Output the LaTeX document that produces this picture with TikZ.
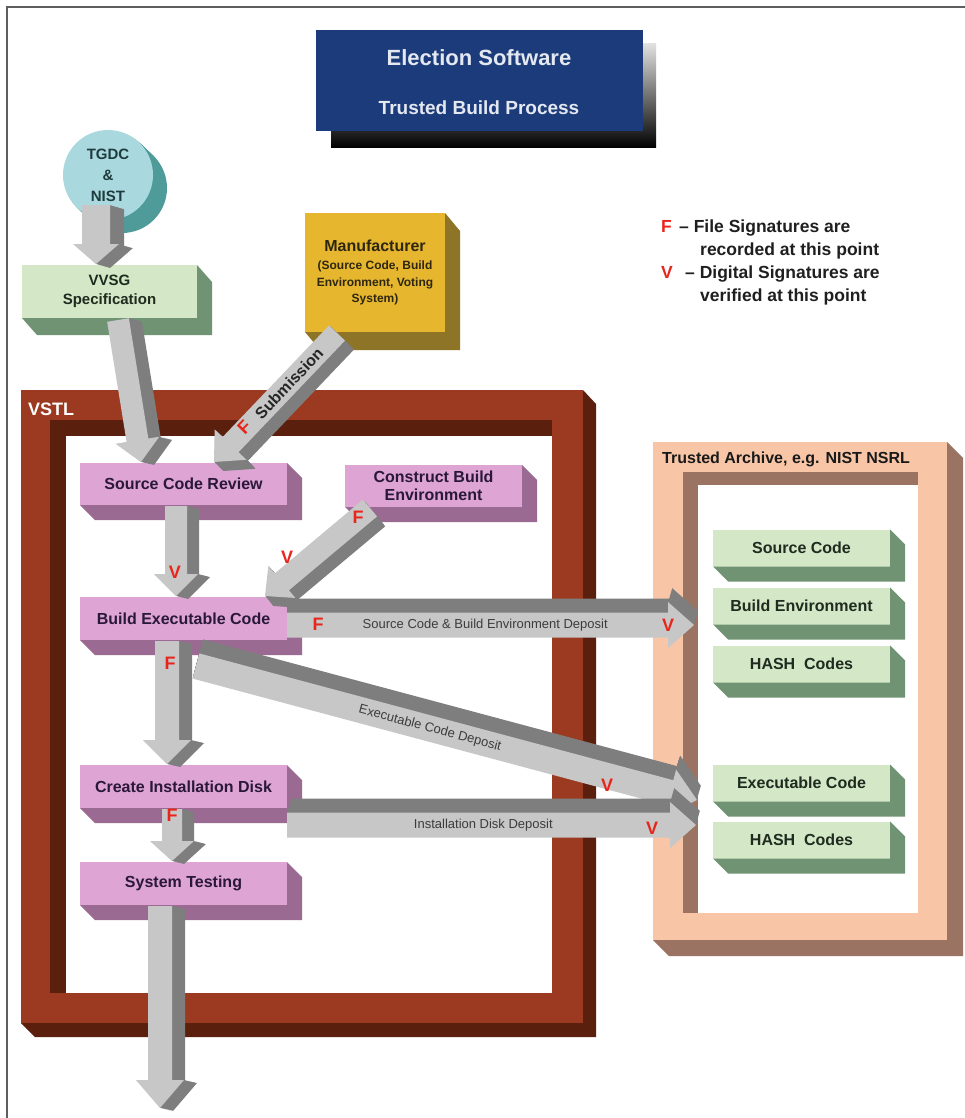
\documentclass[tikz,border=0pt]{standalone}
\usepackage{fontspec}
\setmainfont{Liberation Sans}
\usetikzlibrary{calc}
\definecolor{pinkF}{HTML}{DEA4D4}
\definecolor{pinkS}{HTML}{9A6A93}
\definecolor{pinkT}{HTML}{2A1838}
\definecolor{greenF}{HTML}{D4E7C7}
\definecolor{greenS}{HTML}{6F9373}
\definecolor{greenT}{HTML}{1E2B1E}
\definecolor{navy}{HTML}{1C3B7B}
\definecolor{titleT}{HTML}{E4E8F0}
\definecolor{vstlM}{HTML}{9B3A21}
\definecolor{vstlD}{HTML}{5B200D}
\definecolor{peach}{HTML}{F8C6A6}
\definecolor{archD}{HTML}{9A7363}
\definecolor{yellowF}{HTML}{E7B62F}
\definecolor{yellowS}{HTML}{8D7426}
\definecolor{mfrT}{HTML}{2E2710}
\definecolor{cyanF}{HTML}{A9D9DF}
\definecolor{cyanS}{HTML}{4E9B99}
\definecolor{cyanT}{HTML}{1F3B3D}
\definecolor{arrowL}{HTML}{C7C7C7}
\definecolor{arrowD}{HTML}{7E7E7E}
\definecolor{redL}{HTML}{E8251B}
\definecolor{depT}{HTML}{3C3C3C}
\definecolor{borderC}{HTML}{5E5E5E}

% 3D box extrusion to the right and bottom of a node
\newcommand\extrude[4]{\fill[#4] (#1.north east) -- ++(#2,#3) -- ($(#1.south east)+(#2,#3)$) -- ($(#1.south west)+(#2,#3)$) -- (#1.south west) -- (#1.south east) -- cycle;}

% 3D block arrow: #1 from, #2 to, #3 half width, #4 head half width, #5 head length, #6 depth x, #7 depth y (down)
\newcommand\blockarrow[7]{%
  \path (#1); \pgfgetlastxy{\BAxa}{\BAya}%
  \path (#2); \pgfgetlastxy{\BAxb}{\BAyb}%
  \pgfmathsetmacro\BAang{atan2(\BAyb-\BAya,\BAxb-\BAxa)}%
  \pgfmathsetmacro\BAlen{veclen(\BAxb-\BAxa,\BAyb-\BAya)}%
  \foreach \k in {16,15,...,1}{%
    \begin{scope}[shift={({\BAxa+\k/16*(#6pt)},{\BAya-\k/16*(#7pt)})},rotate=\BAang]
      \fill[arrowside] (0pt,-#3pt) -- ({\BAlen pt-#5pt},-#3pt) -- ({\BAlen pt-#5pt},-#4pt) -- (\BAlen pt,0pt) -- ({\BAlen pt-#5pt},#4pt) -- ({\BAlen pt-#5pt},#3pt) -- (0pt,#3pt) -- cycle;
    \end{scope}}%
  \begin{scope}[shift={(\BAxa,\BAya)},rotate=\BAang]
    \fill[arrowfront] (0pt,-#3pt) -- ({\BAlen pt-#5pt},-#3pt) -- ({\BAlen pt-#5pt},-#4pt) -- (\BAlen pt,0pt) -- ({\BAlen pt-#5pt},#4pt) -- ({\BAlen pt-#5pt},#3pt) -- (0pt,#3pt) -- cycle;
  \end{scope}}

\tikzset{
  pinkbox/.style={fill=pinkF, minimum width=207pt, minimum height=42pt, inner sep=0pt, outer sep=0pt, text=pinkT, font=\bfseries\fontsize{16}{18}\selectfont, align=center},
  greenbox/.style={fill=greenF, minimum width=177pt, minimum height=37pt, inner sep=0pt, outer sep=0pt, text=greenT, font=\bfseries\fontsize{16}{18}\selectfont, align=center},
  redmark/.style={text=redL, font=\bfseries\fontsize{18}{20}\selectfont, inner sep=0pt},
  deplabel/.style={text=depT, font=\fontsize{13}{15}\selectfont, inner sep=0pt},
  legendtext/.style={anchor=base west, font=\bfseries\fontsize{17.5}{20}\selectfont, inner sep=0pt, text=black!88},
  arrowfront/.style={fill=arrowL},
  arrowside/.style={fill=arrowD}
}

\begin{document}
\begin{tikzpicture}[x=1pt,y=-1pt]
\useasboundingbox (0,0) rectangle (965,1118);
\fill[white] (0,0) rectangle (965,1118);
\draw[borderC, line width=2pt] (7,1118) -- (7,7) -- (965,7);

% title
\shade[top color=black!12, bottom color=black] (331,44) rectangle (656,148);
\node[fill=navy, minimum width=327pt, minimum height=101pt, inner sep=0pt] (title) at (479,80.5) {};
\node[text=titleT, font=\bfseries\fontsize{22}{24}\selectfont, inner sep=0pt] (title1) at ($(title.center)+(0,-23)$) {Election Software};
\node[text=titleT, font=\bfseries\fontsize{19}{21}\selectfont, inner sep=0pt] (title2) at ($(title.center)+(0,27)$) {Trusted Build Process};

% legend
\node[legendtext, text=redL] (legF) at (661,232) {F};
\node[legendtext] (leg1) at (679,232) {– File Signatures are};
\node[legendtext] (leg2) at (700,255) {recorded at this point};
\node[legendtext, text=redL] (legV) at (661,278) {V};
\node[legendtext] (leg3) at (685,278) {– Digital Signatures are};
\node[legendtext] (leg4) at (700,301) {verified at this point};

% VSTL frame
\fill[vstlD] (583,390) -- (596,404) -- (596,1037) -- (35,1037) -- (21,1023) -- (583,1023) -- cycle;
\fill[vstlM] (21,390) rectangle (583,1023);
\fill[vstlD] (50,420) rectangle (552,993);
\fill[white] (66,436) rectangle (552,993);
\node[anchor=base west, text=white, font=\bfseries\fontsize{18}{20}\selectfont, inner sep=0pt] (vstl) at (28,415) {VSTL};

% Trusted archive frame
\fill[archD] (947,442) -- (963,458) -- (963,956) -- (669,956) -- (653,940) -- (947,940) -- cycle;
\fill[peach] (653,442) rectangle (947,940);
\fill[archD] (683,472) rectangle (918,913);
\fill[white] (698,485) rectangle (918,913);
\node[anchor=base west, text=black!90, font=\bfseries\fontsize{16}{18}\selectfont, inner sep=0pt] (arch) at (662,463) {Trusted Archive, e.g. NIST NSRL};

% TGDC & NIST
\coordinate (tgdcc) at (108,175);
\foreach \k in {14,...,1} \fill[cyanS] ($(tgdcc)+(\k,0.93*\k)$) circle[radius=45];
\node[circle, fill=cyanF, minimum size=90pt, inner sep=0pt, text=cyanT, align=center, font=\bfseries\fontsize{15}{21}\selectfont] (tgdc) at (tgdcc) {TGDC\\\&\\NIST};

% boxes
\node[greenbox, minimum width=175pt, minimum height=53pt, font=\bfseries\fontsize{15}{19}\selectfont] (vvsg) at (109.5,291.5) {VVSG\\Specification};
\extrude{vvsg}{15}{17}{greenS}
\node[fill=yellowF, minimum width=140pt, minimum height=119pt, inner sep=0pt, outer sep=0pt, text=mfrT, align=center, font=\bfseries\fontsize{12}{16.5}\selectfont] (mfr) at (375,272.5) {{\fontsize{16}{18}\selectfont Manufacturer}\\[2pt](Source Code, Build\\Environment, Voting\\System)};
\extrude{mfr}{15}{18}{yellowS}

\node[pinkbox] (scr) at (183.5,484) {Source Code Review};
\extrude{scr}{15}{15}{pinkS}
\node[pinkbox, minimum width=177pt] (cbe) at (433.5,486) {Construct Build\\Environment};
\extrude{cbe}{15}{15}{pinkS}
\node[pinkbox, minimum height=43pt] (bec) at (183.5,618.5) {Build Executable Code};
\extrude{bec}{15}{15}{pinkS}
\node[pinkbox, minimum height=43pt] (cid) at (183.5,786.5) {Create Installation Disk};
\extrude{cid}{15}{15}{pinkS}
\node[pinkbox, minimum height=43pt] (st) at (183.5,883.5) {System Testing};
\extrude{st}{15}{15}{pinkS}

\node[greenbox] (src) at (801.5,548) {Source Code};
\extrude{src}{15}{15}{greenS}
\node[greenbox] (benv) at (801.5,606) {Build Environment};
\extrude{benv}{15}{15}{greenS}
\node[greenbox] (hash1) at (801.5,664) {HASH\ \ Codes};
\extrude{hash1}{15}{15}{greenS}
\node[greenbox] (exe) at (801.5,783) {Executable Code};
\extrude{exe}{15}{15}{greenS}
\node[greenbox] (hash2) at (801.5,840) {HASH\ \ Codes};
\extrude{hash2}{15}{15}{greenS}

% arrow end points
\coordinate (a1s) at ($(tgdc.center)+(-12,30)$);
\coordinate (a1e) at ($(vvsg.north)+(-13.5,-1)$);
\coordinate (a2s) at ($(vvsg.south)+(8.5,2)$);
\coordinate (a2e) at ($(scr.north)+(-42.5,-1)$);
\coordinate (a3s) at ($(mfr.south)+(-38,1)$);
\coordinate (a3e) at ($(scr.north)+(30.5,-1)$);
\coordinate (a4s) at ($(scr.south)+(-7.5,1)$);
\coordinate (a4e) at ($(bec.north)+(-7.5,-1)$);
\coordinate (a5s) at ($(cbe.south west)+(25,1)$);
\coordinate (a5e) at ($(bec.north)+(81.5,-1)$);
\coordinate (a6s) at ($(bec.east)+(0,6.5)$);
\coordinate (a6e) at ($(a6s -| src.west)+(-19,0)$);
\coordinate (a7s) at ($(bec.south)+(-16.5,1)$);
\coordinate (a7e) at ($(cid.north)+(-16.5,-1)$);
\coordinate (a8s) at ($(bec.south)+(12.5,26)$);
\coordinate (a8e) at ($(exe.west)+(-16,17)$);
\coordinate (a9s) at ($(cid.east)+(0,38.5)$);
\coordinate (a9e) at ($(a9s -| exe.west)+(-17,0)$);
\coordinate (a10s) at ($(cid.south)+(-11.5,1)$);
\coordinate (a10e) at ($(st.north)+(-11.5,-1)$);
\coordinate (a11s) at ($(st.south)+(-23.5,1)$);
\coordinate (out) at (160,1108);

% arrows
\blockarrow{a1s}{a1e}{14}{23}{20}{14}{4}
\blockarrow{a2s}{a2e}{11}{22}{22}{13}{3}
\blockarrow{a3s}{a3e}{11}{22}{24}{9}{9}
\blockarrow{a4s}{a4e}{11}{22}{22}{12}{3}
\blockarrow{a5s}{a5e}{11}{21}{22}{8}{10}
\blockarrow{a6s}{a6e}{12.5}{23}{26}{4}{-14}
\blockarrow{a8s}{a8e}{13}{24}{28}{4}{-14}
\blockarrow{a7s}{a7e}{12}{24}{24}{13}{3}
\blockarrow{a9s}{a9e}{12.5}{23}{26}{4}{-14}
\blockarrow{a10s}{a10e}{10}{22}{20}{12}{3}
\blockarrow{a11s}{out}{12}{24}{28}{13}{3}

% arrow labels
\path (a3s) -- (a3e) node[pos=0.39, sloped, inner sep=0pt, text=black!85, font=\bfseries\fontsize{16}{18}\selectfont] (subl) {Submission};
\path (a6s) -- (a6e) node[pos=0.487, deplabel] (l6) {Source Code \& Build Environment Deposit};
\path (a8s) -- (a8e) node[pos=0.467, sloped, deplabel] (l8) {Executable Code Deposit};
\path (a9s) -- (a9e) node[pos=0.48, deplabel] (l9) {Installation Disk Deposit};

% F / V marks
\node[redmark, rotate=46] (m3f) at ($(a3s)!0.73!(a3e)+(-3,0)$) {F};
\node[redmark] (m4v) at (175,572) {V};
\node[redmark] (m5f) at (358,517) {F};
\node[redmark] (m5v) at (287,557) {V};
\node[redmark] (m6f) at (318,624) {F};
\node[redmark] (m6v) at (668,625) {V};
\node[redmark] (m7f) at (170,663) {F};
\node[redmark] (m8v) at (607,785) {V};
\node[redmark] (m9v) at (652,828) {V};
\node[redmark] (m10f) at (172,815) {F};
\end{tikzpicture}
\end{document}
